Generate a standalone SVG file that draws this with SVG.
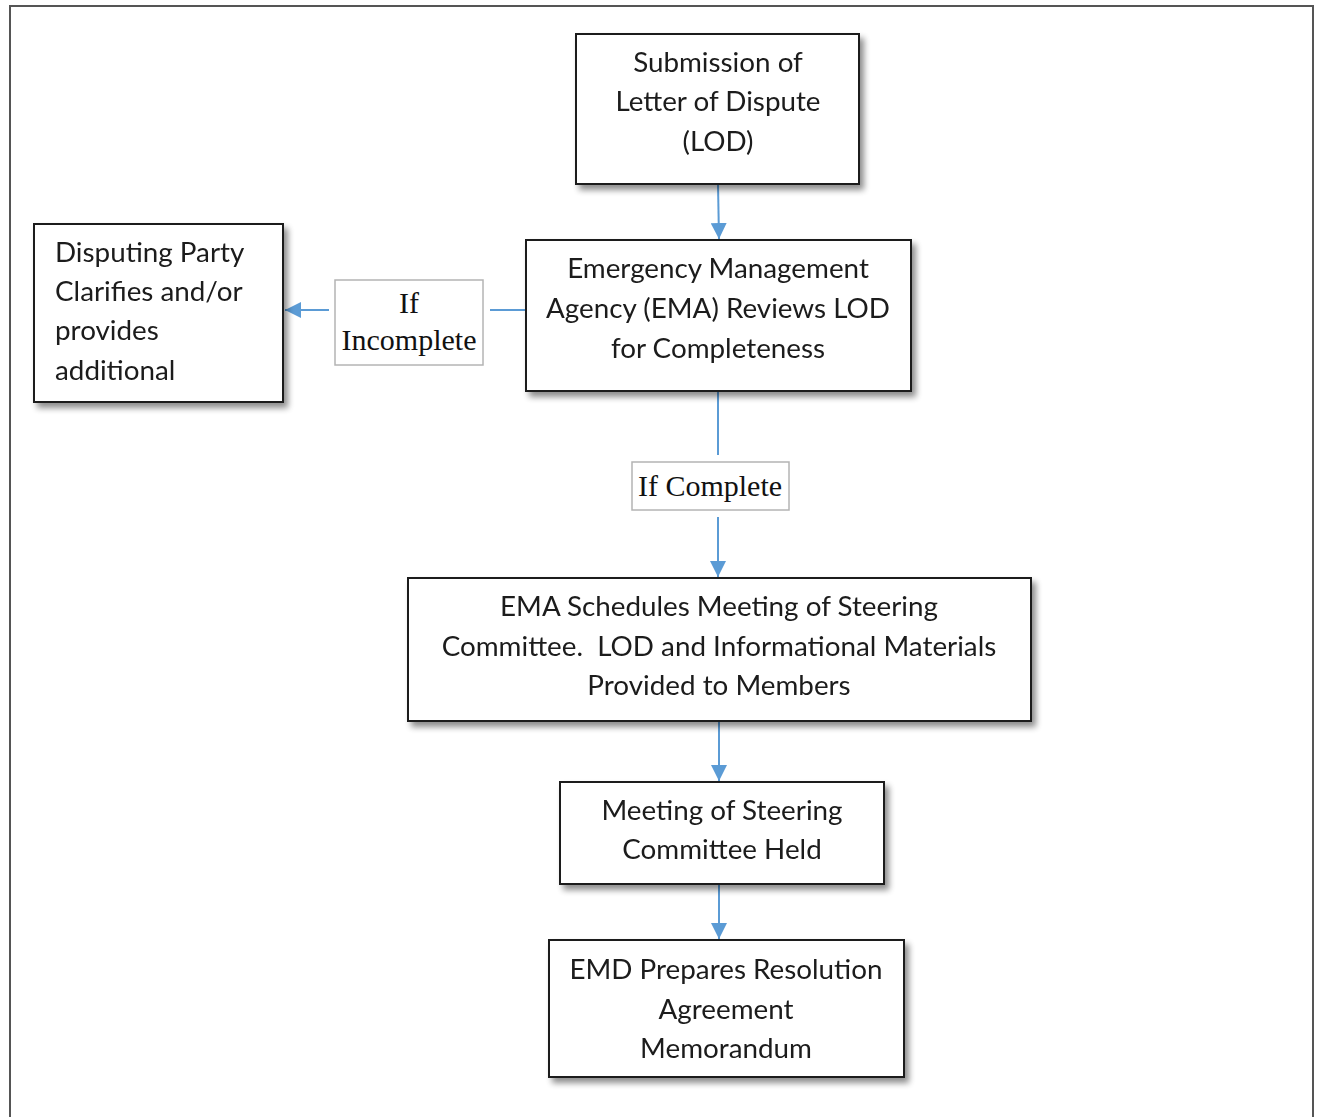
<svg xmlns="http://www.w3.org/2000/svg" width="1317" height="1117" viewBox="0 0 1317 1117">
<style>
.box{fill:#fff;stroke:#1a1a1a;stroke-width:2}
.lbl{fill:#fff;stroke:#b4b4b4;stroke-width:1.5}
.t{font-family:Lato,"Open Sans","Liberation Sans",sans-serif;font-size:27.8px;fill:#1a1a1a;text-anchor:middle}
.tl{text-anchor:start}
.s{font-family:"Liberation Serif","DejaVu Serif",serif;font-size:30px;fill:#111;text-anchor:middle}
.c{stroke:#5b9bd5;stroke-width:2;fill:none}
</style>
<defs>
<marker id="ah2" viewBox="0 0 16 16" refX="16" refY="8" markerWidth="16" markerHeight="16" markerUnits="userSpaceOnUse" orient="auto">
<path d="M0,0 L16,8 L0,16 z" fill="#5b9bd5"/>
</marker>
<filter id="sh" x="-10%" y="-10%" width="125%" height="130%">
<feGaussianBlur in="SourceAlpha" stdDeviation="3"/>
<feOffset dx="4" dy="5" result="b"/>
<feComponentTransfer><feFuncA type="linear" slope="0.45"/></feComponentTransfer>
<feMerge><feMergeNode/><feMergeNode in="SourceGraphic"/></feMerge>
</filter>
</defs>
<rect x="0" y="0" width="1317" height="1117" fill="#fff"/>
<path d="M10,1117 V6 H1313 V1117" fill="none" stroke="#555" stroke-width="2"/>

<g id="connectors">
<line class="c" x1="718" y1="184" x2="719" y2="239" marker-end="url(#ah2)"/>
<line class="c" x1="526" y1="310" x2="285" y2="310" marker-end="url(#ah2)"/>
<line class="c" x1="718" y1="391" x2="718" y2="577" marker-end="url(#ah2)"/>
<line class="c" x1="719" y1="721" x2="719" y2="781" marker-end="url(#ah2)"/>
<line class="c" x1="719" y1="884" x2="719" y2="939" marker-end="url(#ah2)"/>
</g>

<g id="lbl-incomplete">
<rect x="329" y="276" width="161" height="93" fill="#fff"/>
<rect class="lbl" x="335" y="280" width="148" height="85"/>
<text class="s" x="409" y="313">If</text>
<text class="s" x="409" y="350">Incomplete</text>
</g>
<g id="lbl-complete">
<rect x="628" y="455" width="165" height="62" fill="#fff"/>
<rect class="lbl" x="632" y="462" width="157" height="48"/>
<text class="s" x="710" y="496">If Complete</text>
</g>

<g id="n1" filter="url(#sh)">
<rect class="box" x="576" y="34" width="283" height="150"/>
<text class="t" x="718" y="72">Submission of</text>
<text class="t" x="718" y="111">Letter of Dispute</text>
<text class="t" x="718" y="151">(LOD)</text>
</g>
<g id="n2" filter="url(#sh)">
<rect class="box" x="526" y="240" width="385" height="151"/>
<text class="t" x="718" y="278">Emergency Management</text>
<text class="t" x="718" y="318">Agency (EMA) Reviews LOD</text>
<text class="t" x="718" y="358">for Completeness</text>
</g>
<g id="n3" filter="url(#sh)">
<rect class="box" x="34" y="224" width="249" height="178"/>
<text class="t tl" x="55" y="262">Disputing Party</text>
<text class="t tl" x="55" y="301">Clarifies and/or</text>
<text class="t tl" x="55" y="340">provides</text>
<text class="t tl" x="55" y="380">additional</text>
</g>
<g id="n4" filter="url(#sh)">
<rect class="box" x="408" y="578" width="623" height="143"/>
<text class="t" x="719" y="616">EMA Schedules Meeting of Steering</text>
<text class="t" x="719" y="656" xml:space="preserve">Committee.  LOD and Informational Materials</text>
<text class="t" x="719" y="695">Provided to Members</text>
</g>
<g id="n5" filter="url(#sh)">
<rect class="box" x="560" y="782" width="324" height="102"/>
<text class="t" x="722" y="820">Meeting of Steering</text>
<text class="t" x="722" y="859">Committee Held</text>
</g>
<g id="n6" filter="url(#sh)">
<rect class="box" x="549" y="940" width="355" height="137"/>
<text class="t" x="726" y="979">EMD Prepares Resolution</text>
<text class="t" x="726" y="1019">Agreement</text>
<text class="t" x="726" y="1058">Memorandum</text>
</g>
</svg>
